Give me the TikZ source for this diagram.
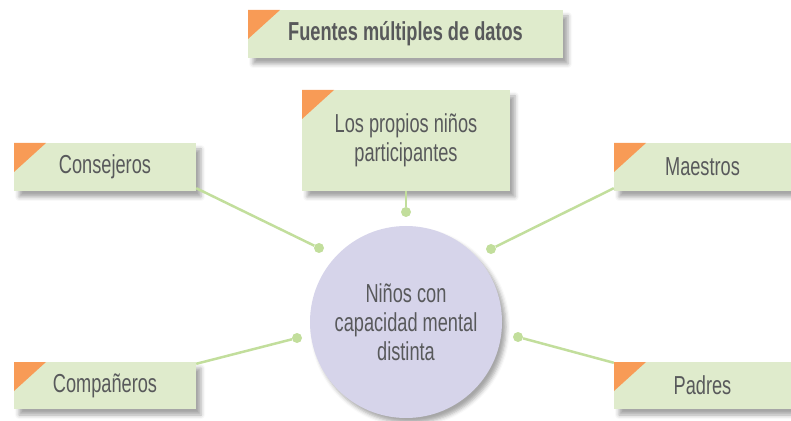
\documentclass[tikz,border=0pt]{standalone}
\usepackage{fontspec}
\setmainfont[FakeStretch=0.70]{Liberation Sans}
\usetikzlibrary{shadows.blur}
\definecolor{boxgreen}{HTML}{DFEBCC}
\definecolor{cornerorange}{HTML}{F89B56}
\definecolor{hublilac}{HTML}{D6D4EA}
\definecolor{linkgreen}{HTML}{C2DE9C}
\definecolor{textgrey}{HTML}{58595B}

\begin{document}
\begin{tikzpicture}[x=1pt, y=1pt,
    every node/.style = {text=textgrey, font=\fontsize{26}{29}\selectfont},
    source/.style = {fill=boxgreen, minimum height=48pt, inner sep=0pt, align=center,
        blur shadow={shadow xshift=5pt, shadow yshift=-6pt, shadow blur radius=4pt, shadow opacity=35},
        path picture={\fill[cornerorange] (path picture bounding box.north west)
            -- ++(32pt,0) -- ++(-32pt,-29pt) -- cycle;}},
    hub/.style = {circle, fill=hublilac, minimum size=192pt, inner sep=0pt, align=center,
        blur shadow={shadow xshift=4pt, shadow yshift=-5pt, shadow blur radius=4pt, shadow opacity=35}},
    dot/.style = {circle, fill=linkgreen, minimum size=10pt, inner sep=0pt},
    link/.style = {draw=linkgreen, line width=2.5pt}]
    \useasboundingbox (0,0) rectangle (791,420);

    \node[source, minimum width=315pt, font=\fontsize{26}{29}\selectfont\bfseries] (title) at (405.5,386) {Fuentes múltiples de datos};

    \node[hub] (kids) at (406,98) {Niños con\\capacidad mental\\distinta};

    \node[source, minimum width=208pt, minimum height=101pt] (self) at (406,279.5) {Los propios niños\\participantes};
    \node[source, minimum width=182pt] (couns) at (105,253) {Consejeros};
    \node[source, minimum width=177pt] (teach) at (702.5,253) {Maestros};
    \node[source, minimum width=182pt, minimum height=47pt] (peers) at (105,34.5) {Compañeros};
    \node[source, minimum width=177pt, minimum height=47pt] (parents) at (702.5,34.5) {Padres};

    % dots around the hub
    \node[dot] (dSelf) at (406,208) {};
    \node[dot] (dCouns) at (319,172) {};
    \node[dot] (dTeach) at (491,171) {};
    \node[dot] (dPeers) at (297,82) {};
    \node[dot] (dParents) at (518,83) {};

    \draw[link] (self.south) -- (dSelf);
    \draw[link] ([yshift=3pt]couns.south east) -- (dCouns);
    \draw[link] ([yshift=3pt]teach.south west) -- (dTeach);
    \draw[link] ([yshift=-2pt]peers.north east) -- (dPeers);
    \draw[link] ([yshift=-1pt]parents.north west) -- (dParents);
\end{tikzpicture}
\end{document}
